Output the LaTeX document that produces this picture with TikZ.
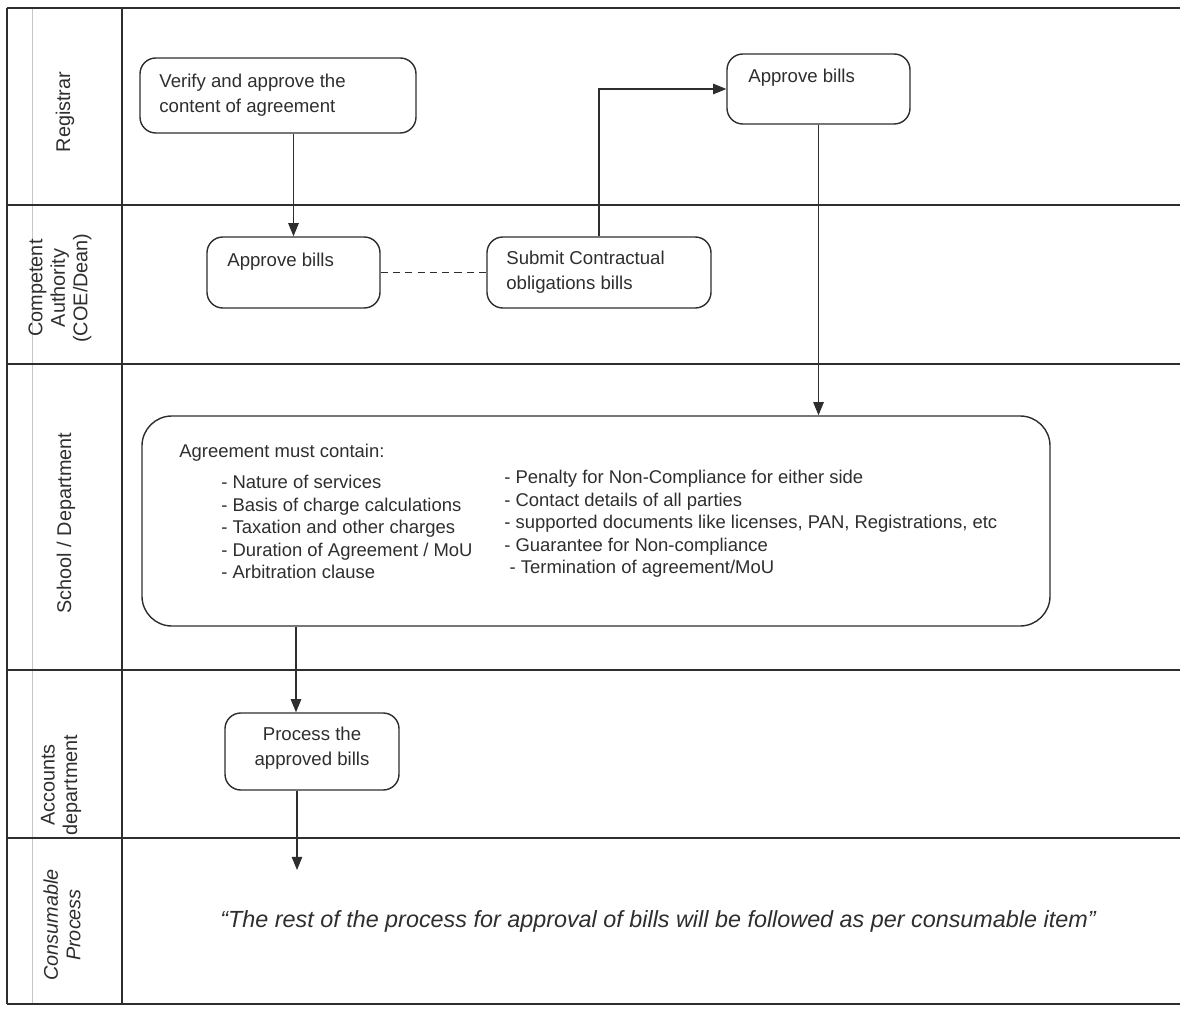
\documentclass[tikz,border=0pt]{standalone}
\usepackage{fontspec}
\setmainfont{Liberation Sans}
\usetikzlibrary{arrows.meta}
\definecolor{ink}{gray}{0.18}
\begin{document}
\begin{tikzpicture}[x=0.02cm,y=-0.02cm,
  every node/.style={text=ink},
  lane/.style={draw=ink,line width=0.6pt},
  lanelabel/.style={rotate=90,align=center,font=\fontsize{11.3}{12.8}\selectfont},
  stepbox/.style={draw=ink,line width=0.8pt,rounded corners=9pt,inner sep=0pt},
  boxtext/.style={align=left,inner sep=0pt,font=\fontsize{10.6}{14.2}\selectfont},
  listtext/.style={align=left,inner sep=0pt,font=\fontsize{10.5}{12.8}\selectfont},
  flow/.style={draw=ink,line width=0.6pt,-{Triangle[length=7.5pt,width=6pt]}},
  link/.style={draw=ink,line width=0.6pt,dashed,dash pattern=on 4pt off 3pt}
]
\useasboundingbox (0,0) rectangle (1180,1010);

% swimlane frame
\draw[lane] (7,8) -- (7,1004);
\draw[draw=gray!45,line width=0.4pt] (32,8) -- (32,1004);
\draw[lane] (122,8) -- (122,1004);
\foreach \yy in {8,205,364,670,838,1004}
  \draw[lane] (7,\yy) -- (1180,\yy);

% lane titles
\node[lanelabel] (lreg) at (65,112) {Registrar};
\node[lanelabel] (lca)  at (60,288) {Competent\\Authority\\(COE/Dean)};
\node[lanelabel] (lsch) at (66,523) {School / Department};
\node[lanelabel] (lacc) at (61,785) {Accounts\\department};
\node[lanelabel,font=\fontsize{11.3}{12.8}\selectfont\itshape] (lcon) at (62,925) {Consumable\\Process};

% Registrar lane
\node[stepbox,minimum width=276*0.02cm,minimum height=75*0.02cm] (verify) at (278,95.5) {};
\node[boxtext,anchor=west] (verifyt) at (159,95.5) {Verify and approve the\\content of agreement};
\node[stepbox,minimum width=183*0.02cm,minimum height=70*0.02cm] (regbills) at (818.5,89) {};
\node[boxtext,anchor=west] (regbillst) at (748,78) {Approve bills};

% Competent Authority lane
\node[stepbox,minimum width=173*0.02cm,minimum height=71*0.02cm] (cabills) at (293.5,272.5) {};
\node[boxtext,anchor=west] (cabillst) at (227,262) {Approve bills};
\node[stepbox,minimum width=224*0.02cm,minimum height=71*0.02cm] (submit) at (599,272.5) {};
\node[boxtext,anchor=west] (submitt) at (506,272) {Submit Contractual\\obligations bills};

% School / Department lane
\node[stepbox,rounded corners=17pt,minimum width=908*0.02cm,minimum height=210*0.02cm] (agree) at (596,521) {};
\node[listtext,anchor=west] (agreehead) at (179,453) {Agreement must contain:};
\node[listtext,anchor=west] (agreeleft) at (221,527) {- Nature of services\\- Basis of charge calculations\\- Taxation and other charges\\- Duration of Agreement / MoU\\- Arbitration clause};
\node[listtext,anchor=west] (agreeright) at (504,524) {- Penalty for Non-Compliance for either side\\- Contact details of all parties\\- supported documents like licenses, PAN, Registrations, etc\\- Guarantee for Non-compliance\\\hspace{3pt}- Termination of agreement/MoU};

% Accounts department lane
\node[stepbox,minimum width=174*0.02cm,minimum height=77*0.02cm] (process) at (312,751.5) {};
\node[boxtext,align=center,anchor=center] (processt) at (312,748) {Process the\\approved bills};

% Consumable process lane
\node[inner sep=0pt,font=\fontsize{13.3}{15}\selectfont\itshape] (rest) at (658,921)
  {``The rest of the process for approval of bills will be followed as per consumable item''};

% connectors
\coordinate (colA) at (296,700);
\coordinate (endp) at (297,870);
\draw[flow] (verify.south -| cabills.north) -- (cabills.north);
\draw[link] (cabills.east) -- (submit.west);
\draw[flow] (submit.north) |- (regbills.west);
\draw[flow] (regbills.south) -- (regbills.south |- agree.north);
\draw[flow] (agree.south -| colA) -- (process.north -| colA);
\draw[flow] (process.south -| endp) -- (endp);
\end{tikzpicture}
\end{document}
